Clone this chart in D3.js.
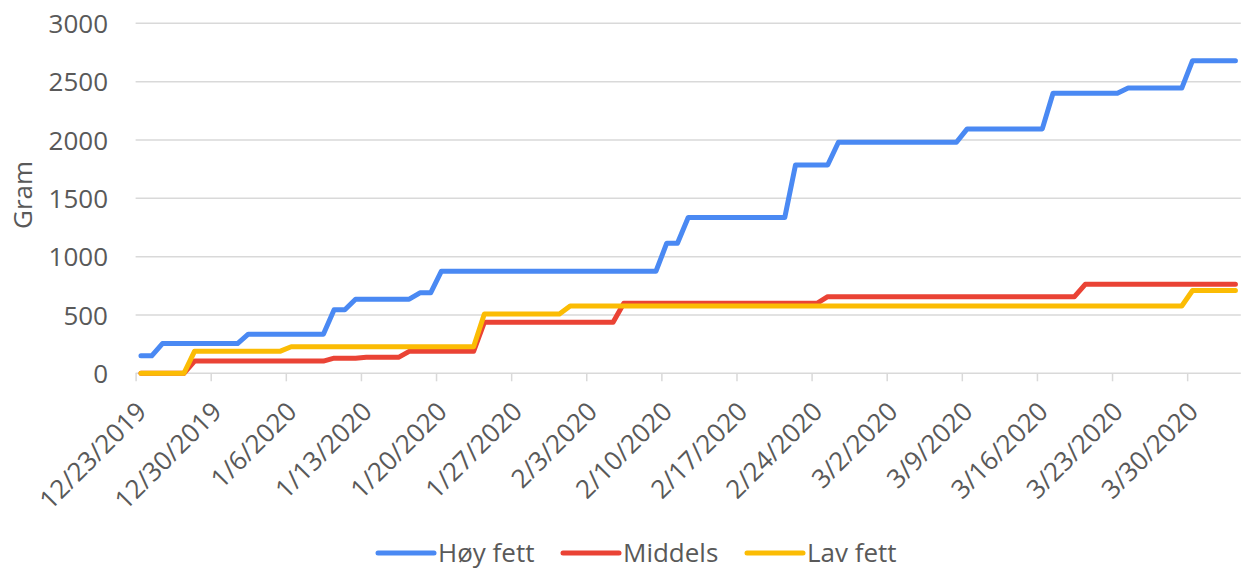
<!DOCTYPE html>
<html>
<head>
<meta charset="utf-8">
<script src="https://cdn.jsdelivr.net/npm/d3@7"></script>
<style>
  html, body { margin: 0; padding: 0; background: #fff; }
  svg { display: block; }
  text { font-family: "Open Sans", sans-serif; fill: #595959; }
</style>
</head>
<body>
<svg id="chart" width="1243" height="570"></svg>
<script>
// ---- data ----
const startDate = "2019-12-23";
const endDate = "2020-04-04";
const seriesNames = ["Høy fett", "Middels", "Lav fett"];
const seriesColors = ["#4a89f3", "#ea4335", "#fbbc04"];

const hoyFett = [
  150,150,255,255,255,255,255,255,255,255,
  335,335,335,335,335,335,335,335,545,545,
  635,635,635,635,635,635,690,690,875,875,
  875,875,875,875,875,875,875,875,875,875,
  875,875,875,875,875,875,875,875,875,1115,
  1115,1335,1335,1335,1335,1335,1335,1335,1335,1335,
  1335,1785,1785,1785,1785,1980,1980,1980,1980,1980,
  1980,1980,1980,1980,1980,1980,1980,2095,2095,2095,
  2095,2095,2095,2095,2095,2400,2400,2400,2400,2400,
  2400,2400,2445,2445,2445,2445,2445,2445,2680,2680,
  2680,2680,2680
];
const middels = [
  0,0,0,0,0,105,105,105,105,105,
  105,105,105,105,105,105,105,105,130,130,
  130,137,137,137,137,188,188,188,188,188,
  188,188,437,437,437,437,437,437,437,437,
  437,437,437,437,437,600,600,600,600,600,
  600,600,600,600,600,600,600,600,600,600,
  600,600,600,600,657,657,657,657,657,657,
  657,657,657,657,657,657,657,657,657,657,
  657,657,657,657,657,657,657,657,763,763,
  763,763,763,763,763,763,763,763,763,763,
  763,763,763
];
const lavFett = [
  0,0,0,0,0,190,190,190,190,190,
  190,190,190,190,228,228,228,228,228,228,
  228,228,228,228,228,228,228,228,228,228,
  228,228,508,508,508,508,508,508,508,508,
  577,577,577,577,577,577,577,577,577,577,
  577,577,577,577,577,577,577,577,577,577,
  577,577,577,577,577,577,577,577,577,577,
  577,577,577,577,577,577,577,577,577,577,
  577,577,577,577,577,577,577,577,577,577,
  577,577,577,577,577,577,577,577,710,710,
  710,710,710
];
const yTicks = [0, 500, 1000, 1500, 2000, 2500, 3000];
const xTickLabels = ["12/23/2019","12/30/2019","1/6/2020","1/13/2020","1/20/2020","1/27/2020",
  "2/3/2020","2/10/2020","2/17/2020","2/24/2020","3/2/2020","3/9/2020","3/16/2020","3/23/2020","3/30/2020"];
const yTitle = "Gram";

// ---- chart ----
const FS = "26px";
const svg = d3.select("#chart");
const parse = d3.timeParse("%Y-%m-%d");
const parseTick = d3.timeParse("%m/%d/%Y");
const d0 = parse(startDate), d1 = parse(endDate);
const days = d3.timeDay.range(d0, d1);

const x = d3.scaleTime().domain([d0, d1]).range([135.6, 1240.8]);
const y = d3.scaleLinear().domain([0, 3000]).range([373.3, 23.3]);

// gridlines
svg.append("g").selectAll("line").data(yTicks.filter(v => v > 0)).join("line")
  .attr("x1", x(d0)).attr("x2", x(d1))
  .attr("y1", d => y(d)).attr("y2", d => y(d))
  .attr("stroke", "#d9d9d9").attr("stroke-width", 1.5);

// x axis
const tickDates = xTickLabels.map(s => parseTick(s));
const xAxis = d3.axisBottom(x).tickValues(tickDates).tickSize(8).tickFormat((d, i) => xTickLabels[i]);
const gx = svg.append("g").attr("transform", `translate(0,${y(0)})`).call(xAxis);
gx.select(".domain").attr("d", `M${x(d0)},0H${x(d1)}`).attr("stroke", "#d9d9d9").attr("stroke-width", 1.5);
gx.selectAll(".tick line").attr("stroke", "#d9d9d9").attr("stroke-width", 1.5);
gx.selectAll(".tick text")
  .attr("fill", "#595959")
  .style("font-size", FS)
  .style("font-family", "'Open Sans', sans-serif")
  .attr("text-anchor", "end")
  .attr("y", 0).attr("dy", 0)
  .attr("transform", "translate(12,40) rotate(-45)");

// y axis labels
const yAxis = d3.axisLeft(y).tickValues(yTicks).tickSize(0).tickPadding(0).tickFormat(d3.format("d"));
const gy = svg.append("g").attr("transform", `translate(108,0)`).call(yAxis);
gy.select(".domain").remove();
gy.selectAll(".tick text").attr("fill", "#595959")
  .style("font-size", FS).style("font-family", "'Open Sans', sans-serif").attr("dy", "0.35em");

// y title
svg.append("text")
  .attr("transform", "translate(23,195) rotate(-90)")
  .attr("text-anchor", "middle").attr("dy", "0.35em")
  .style("font-size", FS)
  .text(yTitle);

// lines
const allSeries = [hoyFett, middels, lavFett];
const line = d3.line()
  .x((d, i) => x(d3.timeHour.offset(days[i], 12)))
  .y(d => y(d));
allSeries.forEach((s, k) => {
  svg.append("path").datum(s)
    .attr("d", line)
    .attr("fill", "none")
    .attr("stroke", seriesColors[k])
    .attr("stroke-width", 5)
    .attr("stroke-linejoin", "round")
    .attr("stroke-linecap", "round");
});

// legend
const legendX = [378, 563, 747];
const legendY = 553;
const lg = svg.append("g");
seriesNames.forEach((n, k) => {
  lg.append("line")
    .attr("x1", legendX[k]).attr("x2", legendX[k] + 56)
    .attr("y1", legendY).attr("y2", legendY)
    .attr("stroke", seriesColors[k]).attr("stroke-width", 5)
    .attr("stroke-linecap", "round");
  lg.append("text")
    .attr("x", legendX[k] + 60).attr("y", legendY)
    .attr("dy", "0.35em")
    .style("font-size", FS)
    .text(n);
});
</script>
</body>
</html>
